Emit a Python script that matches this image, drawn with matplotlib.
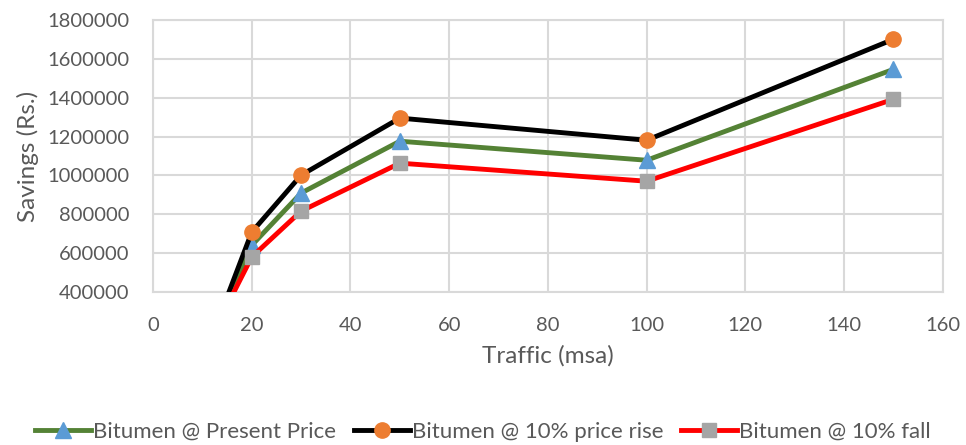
import matplotlib
matplotlib.use("Agg")
import matplotlib.pyplot as plt

traffic = [10, 20, 30, 50, 100, 150]
present = [60000, 640000, 909000, 1176000, 1078000, 1546000]
rise = [40000, 708000, 1001000, 1295000, 1181000, 1701000]
fall = [80000, 580000, 816000, 1063000, 970000, 1392000]

xticks = [0, 20, 40, 60, 80, 100, 120, 140, 160]
yticks = [400000, 600000, 800000, 1000000, 1200000, 1400000, 1600000, 1800000]

plt.rcParams['font.family'] = ['Lato', 'DejaVu Sans']
txt = '#595959'
fig = plt.figure(figsize=(9.66, 4.45), dpi=100)
ax = fig.add_axes([0.1584, 0.344, 0.8176, 0.611])

ax.plot(traffic, present, color='#548235', lw=3.5, marker='^', ms=11,
        mfc='#5b9bd5', mec='#5b9bd5', label='Bitumen @ Present Price', zorder=3)
ax.plot(traffic, rise, color='black', lw=3.5, marker='o', ms=11,
        mfc='#ed7d31', mec='#ed7d31', label='Bitumen @ 10% price rise', zorder=3)
ax.plot(traffic, fall, color='#ff0000', lw=3.5, marker='s', ms=10,
        mfc='#a5a5a5', mec='#a5a5a5', label='Bitumen @ 10% fall', zorder=3)

ax.set_xlim(0, 160)
ax.set_ylim(400000, 1800000)
ax.set_xticks(xticks)
ax.set_yticks(yticks)
ax.set_xticklabels([str(v) for v in xticks])
ax.set_yticklabels([str(v) for v in yticks])
ax.tick_params(length=0, labelsize=14.5, colors=txt)
ax.tick_params(axis='y', pad=17)
ax.tick_params(axis='x', pad=18)
ax.grid(True, color='#d9d9d9', lw=1.5)
ax.set_axisbelow(True)
for s in ax.spines.values():
    s.set_color('#d9d9d9')
    s.set_linewidth(1.5)

ax.set_xlabel('Traffic (msa)', fontsize=17.5, color=txt, labelpad=8)
ax.set_ylabel('Savings (Rs.)', fontsize=17.5, color=txt, labelpad=6)

leg = fig.legend(loc='center', bbox_to_anchor=(0.5, 0.03), ncol=3, frameon=False,
                 fontsize=16, handlelength=2.5, columnspacing=0.8, handletextpad=0.1,
                 labelcolor=txt)

fig.savefig('out.png', dpi=100)
